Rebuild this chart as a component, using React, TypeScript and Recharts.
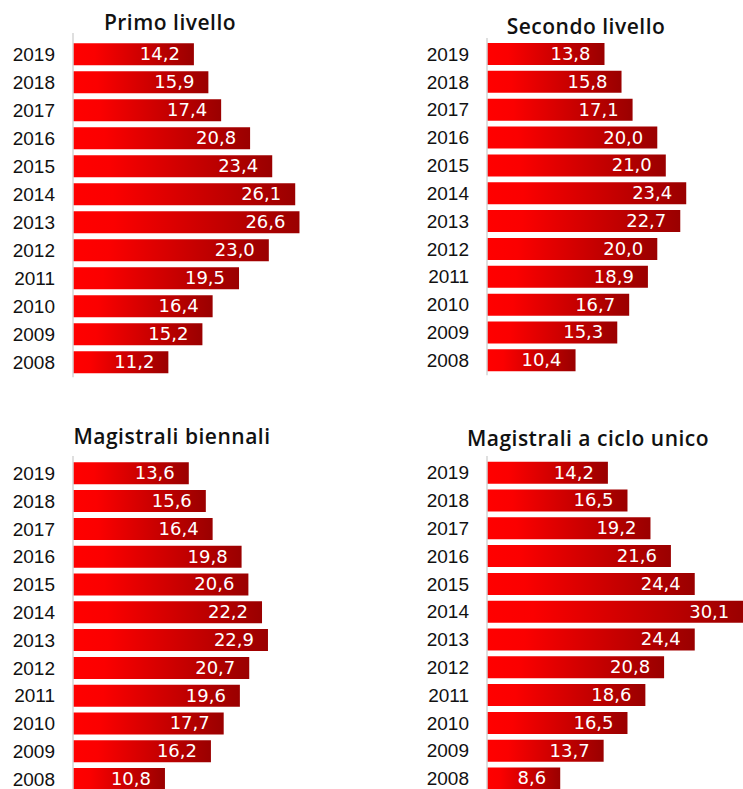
import React from 'react'
import { BarChart, Bar, XAxis, YAxis, LabelList } from 'recharts'

const years = ['2019', '2018', '2017', '2016', '2015', '2014', '2013', '2012', '2011', '2010', '2009', '2008']
const primoLivello = [14.2, 15.9, 17.4, 20.8, 23.4, 26.1, 26.6, 23.0, 19.5, 16.4, 15.2, 11.2]
const secondoLivello = [13.8, 15.8, 17.1, 20.0, 21.0, 23.4, 22.7, 20.0, 18.9, 16.7, 15.3, 10.4]
const magistraliBiennali = [13.6, 15.6, 16.4, 19.8, 20.6, 22.2, 22.9, 20.7, 19.6, 17.7, 16.2, 10.8]
const cicloUnico = [14.2, 16.5, 19.2, 21.6, 24.4, 30.1, 24.4, 20.8, 18.6, 16.5, 13.7, 8.6]

const titles = ['Primo livello', 'Secondo livello', 'Magistrali biennali', 'Magistrali a ciclo unico']

const fmt = (v: number) => v.toFixed(1).replace('.', ',')

const panels = [
  { id: 'p1', title: titles[0], values: primoLivello, left: 0, axisTop: 33, bandTop: 40.3, rowH: 28, tx: 170, ty: 30 },
  { id: 'p2', title: titles[1], values: secondoLivello, left: 414, axisTop: 38, bandTop: 40, rowH: 27.85, tx: 586, ty: 34 },
  { id: 'p3', title: titles[2], values: magistraliBiennali, left: 0, axisTop: 456, bandTop: 459.3, rowH: 27.8, tx: 172, ty: 444 },
  { id: 'p4', title: titles[3], values: cicloUnico, left: 414, axisTop: 456, bandTop: 458.7, rowH: 27.8, tx: 588, ty: 446 },
]

const AXIS_W = 73
const PLOT_W = 298

function ValueLabel(props: any) {
  const { x, y, width, height, value } = props
  return (
    <text
      x={x + width - 14}
      y={y + height / 2 + 6}
      textAnchor="end"
      fill="#ffffff"
      fontSize={18}
      fontFamily="DejaVu Sans"
    >
      {fmt(value)}
    </text>
  )
}

function Panel({ p }: { p: (typeof panels)[number] }) {
  const data = years.map((y, i) => ({ year: y, value: p.values[i] }))
  const pad = p.bandTop - p.axisTop
  const height = p.axisTop + pad + p.rowH * years.length + 1 + 5
  return (
    <div style={{ position: 'absolute', left: p.left, top: 0 }}>
      <BarChart
        layout="vertical"
        width={AXIS_W + PLOT_W}
        height={height}
        data={data}
        margin={{ top: p.axisTop, right: 0, bottom: 5, left: 0 }}
        barSize={22}
      >
        <defs>
          <linearGradient id={`grad-${p.id}`} x1="0" y1="0" x2="1" y2="0">
            <stop offset="0" stopColor="#ff0000" />
            <stop offset="0.18" stopColor="#fb0000" />
            <stop offset="1" stopColor="#9a0000" />
          </linearGradient>
        </defs>
        <XAxis type="number" domain={[0, 35]} hide />
        <YAxis
          type="category"
          dataKey="year"
          width={AXIS_W}
          padding={{ top: pad, bottom: 1 }}
          axisLine={{ stroke: '#d4d4d4', strokeWidth: 1.5 }}
          tickLine={false}
          tickSize={0}
          tickMargin={18}
          tick={{ fill: '#111111', fontSize: 19, fontFamily: 'Liberation Sans' }}
          interval={0}
        />
        <Bar dataKey="value" fill={`url(#grad-${p.id})`} isAnimationActive={false}>
          <LabelList dataKey="value" content={ValueLabel} />
        </Bar>
      </BarChart>
    </div>
  )
}

export default function App() {
  return (
    <div
      style={{
        position: 'absolute',
        left: 0,
        top: 0,
        width: 743,
        height: 789,
        overflow: 'hidden',
        background: '#ffffff',
      }}
    >
      {panels.map(p => (
        <Panel key={p.id} p={p} />
      ))}
      <svg width={743} height={789} style={{ position: 'absolute', left: 0, top: 0, pointerEvents: 'none' }}>
        {panels.map(p => (
          <text
            key={p.id}
            x={p.tx}
            y={p.ty}
            textAnchor="middle"
            fill="#111111"
            fontSize={21}
            fontWeight={600}
            fontFamily="Open Sans"
            letterSpacing={0.5}
          >
            {p.title}
          </text>
        ))}
      </svg>
    </div>
  )
}
